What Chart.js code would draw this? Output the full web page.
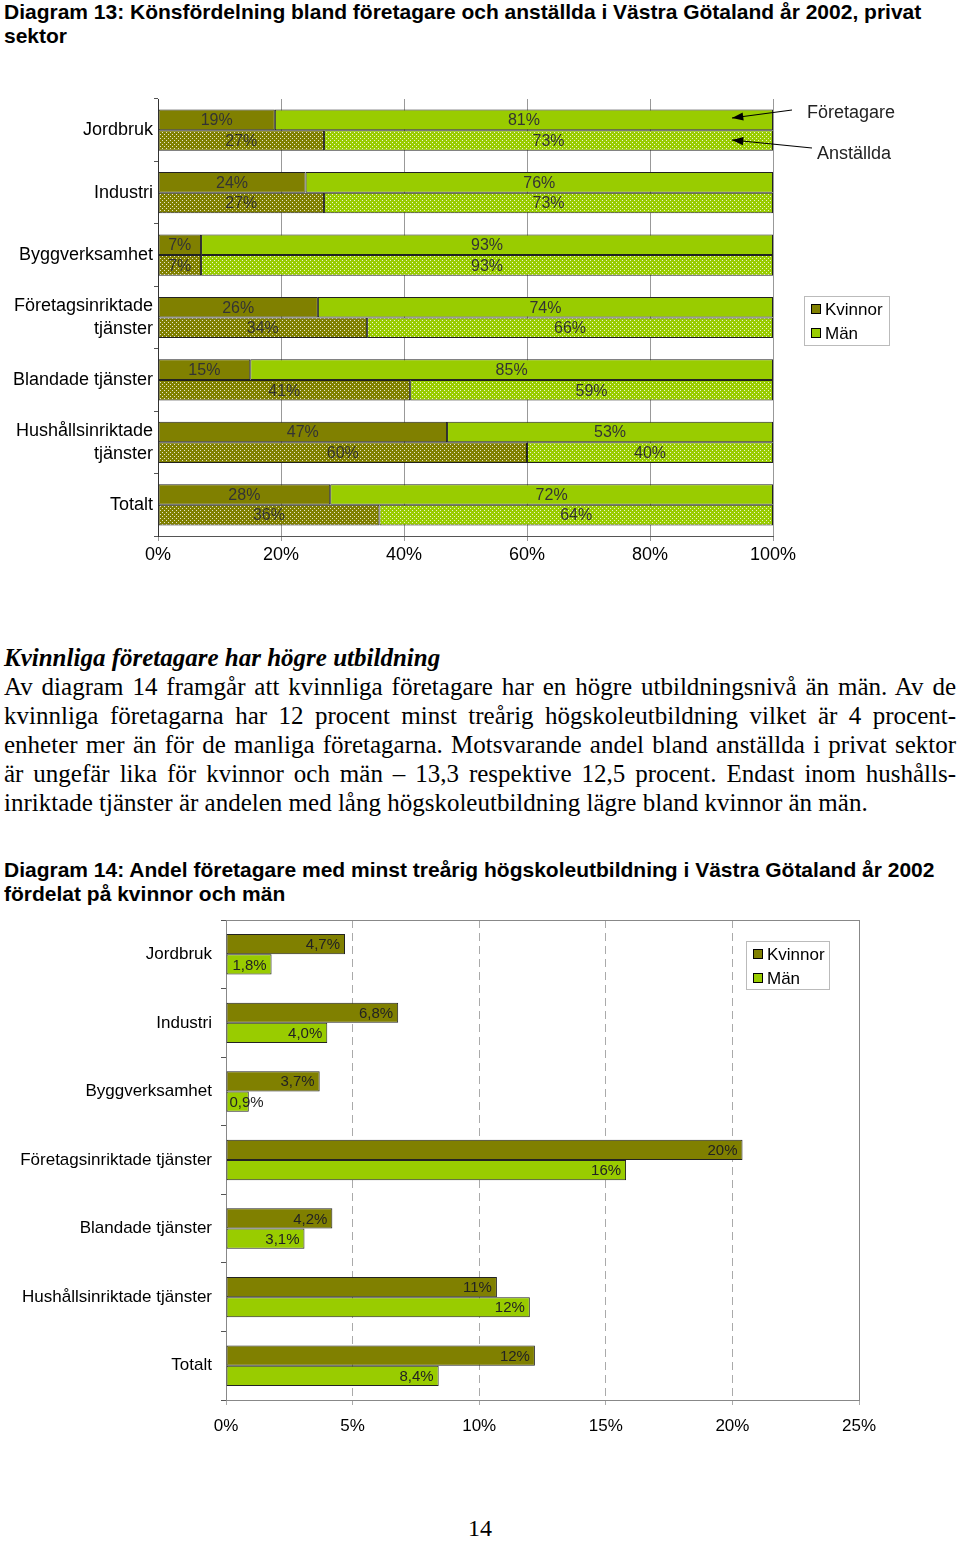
<!DOCTYPE html>
<html>
<head>
<meta charset="utf-8">
<script src="https://cdn.jsdelivr.net/npm/chart.js@4.4.1/dist/chart.umd.min.js"></script>
<style>
body { margin: 0; width: 960px; height: 1541px; position: relative; background: #fff; font-family: "Liberation Sans", Arial, sans-serif; color: #000; }
.title { position: absolute; left: 4px; width: 950px; font-weight: bold; font-size: 21px; line-height: 24px; }
.box { position: absolute; left: 0; width: 960px; }
.box canvas { display: block; }
.serif { font-family: "Liberation Serif", "Times New Roman", serif; }
.head { position: absolute; left: 4px; top: 643px; font-size: 25px; line-height: 29px; font-weight: bold; font-style: italic; }
.body { position: absolute; left: 4px; top: 672px; width: 952px; font-size: 25px; line-height: 29px; }
.body div { text-align: justify; text-align-last: justify; white-space: nowrap; }
.body div.last { text-align-last: left; }
.page { position: absolute; top: 1515px; left: 0; width: 960px; text-align: center; font-size: 24px; }
</style>
</head>
<body>
<div class="title" style="top:0">Diagram 13: Könsfördelning bland företagare och anställda i Västra Götaland år 2002, privat sektor</div>
<div class="box" style="top:90px;height:490px"><canvas id="c1" width="960" height="490"></canvas></div>

<div class="head serif">Kvinnliga företagare har högre utbildning</div>
<div class="body serif">
  <div>Av diagram 14 framgår att kvinnliga företagare har en högre utbildningsnivå än män. Av de</div>
  <div>kvinnliga företagarna har 12 procent minst treårig högskoleutbildning vilket är 4 procent-</div>
  <div>enheter mer än för de manliga företagarna. Motsvarande andel bland anställda i privat sektor</div>
  <div>är ungefär lika för kvinnor och män – 13,3 respektive 12,5 procent. Endast inom hushålls-</div>
  <div class="last">inriktade tjänster är andelen med lång högskoleutbildning lägre bland kvinnor än män.</div>
</div>

<div class="title" style="top:858px">Diagram 14: Andel företagare med minst treårig högskoleutbildning i Västra Götaland år 2002 fördelat på kvinnor och män</div>
<div class="box" style="top:905px;height:545px"><canvas id="c2" width="960" height="545"></canvas></div>

<div class="page serif">14</div>

<script>
// Diagram 13 data (procent)
var categories1 = ['Jordbruk', 'Industri', 'Byggverksamhet', ['Företagsinriktade', 'tjänster'], 'Blandade tjänster', ['Hushållsinriktade', 'tjänster'], 'Totalt'];
var foretagareKvinnor = [19, 24, 7, 26, 15, 47, 28];
var foretagareMan = [81, 76, 93, 74, 85, 53, 72];
var anstalldaKvinnor = [27, 27, 7, 34, 41, 60, 36];
var anstalldaMan = [73, 73, 93, 66, 59, 40, 64];

// Diagram 14 data (procent)
var categories2 = ['Jordbruk', 'Industri', 'Byggverksamhet', 'Företagsinriktade tjänster', 'Blandade tjänster', 'Hushållsinriktade tjänster', 'Totalt'];
var utbKvinnor = [4.7, 6.8, 3.7, 20.4, 4.2, 10.7, 12.2];
var utbMan = [1.8, 4.0, 0.9, 15.8, 3.1, 12.0, 8.4];

var OLIVE = '#808000';
var LIME = '#99cc00';
var FONT = '"Liberation Sans", Arial, sans-serif';

Chart.defaults.font.family = FONT;
Chart.defaults.color = '#000';

// dotted fill for Anställda bars
function dotted(color) {
  var c = document.createElement('canvas');
  c.width = 4; c.height = 4;
  var g = c.getContext('2d');
  g.fillStyle = color;
  g.fillRect(0, 0, 4, 4);
  g.fillStyle = 'rgba(255,255,255,0.8)';
  g.fillRect(0, 0, 1, 1);
  g.fillRect(2, 2, 1, 1);
  return g.createPattern(c, 'repeat');
}
var ctx1 = document.getElementById('c1').getContext('2d');

function drawLegend(ctx, x, y, w, h, items) {
  ctx.save();
  ctx.strokeStyle = '#bbb';
  ctx.lineWidth = 1;
  ctx.strokeRect(x + 0.5, y + 0.5, w, h);
  ctx.font = '17px ' + FONT;
  ctx.textBaseline = 'middle';
  items.forEach(function (it, i) {
    var cy = y + 13 + i * 24;
    ctx.fillStyle = it.color;
    ctx.fillRect(x + 7, cy - 5, 10, 10);
    ctx.strokeStyle = '#000';
    ctx.strokeRect(x + 7.5, cy - 4.5, 9, 9);
    ctx.fillStyle = '#000';
    ctx.fillText(it.text, x + 21, cy + 1);
  });
  ctx.restore();
}

function arrow(ctx, x1, y1, x2, y2) {
  var a = Math.atan2(y2 - y1, x2 - x1);
  ctx.beginPath();
  ctx.moveTo(x1, y1);
  ctx.lineTo(x2, y2);
  ctx.stroke();
  ctx.beginPath();
  ctx.moveTo(x2, y2);
  ctx.lineTo(x2 - 12 * Math.cos(a - 0.35), y2 - 12 * Math.sin(a - 0.35));
  ctx.lineTo(x2 - 12 * Math.cos(a + 0.35), y2 - 12 * Math.sin(a + 0.35));
  ctx.closePath();
  ctx.fill();
}

function noPad(s) {
  s.paddingTop = 0;
  s.paddingBottom = 0;
}

var labels1 = {
  id: 'labels1',
  afterDatasetsDraw: function (chart) {
    var ctx = chart.ctx;
    ctx.save();
    ctx.font = '16px ' + FONT;
    ctx.fillStyle = '#333';
    ctx.textAlign = 'center';
    ctx.textBaseline = 'middle';
    chart.data.datasets.forEach(function (ds, i) {
      chart.getDatasetMeta(i).data.forEach(function (bar, j) {
        ctx.fillText(ds.data[j] + '%', (bar.x + bar.base) / 2, bar.y + 1);
      });
    });
    // annotations
    ctx.textAlign = 'left';
    ctx.font = '18px ' + FONT;
    ctx.fillStyle = '#222';
    ctx.fillText('Företagare', 807, 23);
    ctx.fillText('Anställda', 817, 64);
    ctx.strokeStyle = '#000';
    ctx.fillStyle = '#000';
    ctx.lineWidth = 1.2;
    arrow(ctx, 792, 20, 732, 28);
    arrow(ctx, 812, 58, 732, 50);
    ctx.restore();
    drawLegend(ctx, 804, 206, 85, 49, [{ color: OLIVE, text: 'Kvinnor' }, { color: LIME, text: 'Män' }]);
  }
};

new Chart(ctx1, {
  type: 'bar',
  data: {
    labels: categories1,
    datasets: [
      { label: 'Kvinnor', data: foretagareKvinnor, stack: 'F', backgroundColor: OLIVE },
      { label: 'Män', data: foretagareMan, stack: 'F', backgroundColor: LIME },
      { label: 'Kvinnor anställda', data: anstalldaKvinnor, stack: 'A', backgroundColor: dotted(OLIVE) },
      { label: 'Män anställda', data: anstalldaMan, stack: 'A', backgroundColor: dotted(LIME) }
    ]
  },
  options: {
    indexAxis: 'y',
    responsive: false,
    animation: false,
    layout: { padding: { top: 9, right: 187, left: 0, bottom: 0 } },
    datasets: { bar: { borderColor: '#222', borderWidth: 1, borderSkipped: false, categoryPercentage: 0.66, barPercentage: 1 } },
    scales: {
      x: {
        stacked: true,
        min: 0,
        max: 100,
        ticks: { stepSize: 20, padding: 3, font: { size: 18 }, callback: function (v) { return v + '%'; } },
        grid: { color: '#999', tickLength: 5 },
        border: { color: '#555' },
        afterFit: function (s) { s.height = 44; }
      },
      y: {
        stacked: true,
        ticks: { padding: 1, font: { size: 18, lineHeight: 1.25 } },
        grid: { drawOnChartArea: false, tickLength: 4, color: '#555' },
        border: { color: '#333' },
        afterFit: function (s) { s.width = 158; noPad(s); }
      }
    },
    plugins: { legend: { display: false }, tooltip: { enabled: false } }
  },
  plugins: [labels1]
});

function fmt(v) {
  return v < 10 ? v.toFixed(1).replace('.', ',') + '%' : Math.round(v) + '%';
}

var labels2 = {
  id: 'labels2',
  beforeDatasetsDraw: function (chart) {
    var a = chart.chartArea;
    var ctx = chart.ctx;
    ctx.save();
    ctx.strokeStyle = '#888';
    ctx.lineWidth = 1;
    ctx.strokeRect(a.left + 0.5, a.top + 0.5, a.right - a.left, a.bottom - a.top);
    ctx.restore();
  },
  afterDatasetsDraw: function (chart) {
    var ctx = chart.ctx;
    ctx.save();
    ctx.font = '15px ' + FONT;
    ctx.fillStyle = '#222';
    ctx.textBaseline = 'middle';
    ctx.textAlign = 'left';
    chart.data.datasets.forEach(function (ds, i) {
      chart.getDatasetMeta(i).data.forEach(function (bar, j) {
        var t = fmt(ds.data[j]);
        var w = ctx.measureText(t).width;
        var x = Math.max(bar.x - 5 - w, bar.base + 3);
        ctx.fillText(t, x, bar.y + 1);
      });
    });
    ctx.restore();
    drawLegend(ctx, 746, 36, 83, 48, [{ color: OLIVE, text: 'Kvinnor' }, { color: LIME, text: 'Män' }]);
  }
};

new Chart(document.getElementById('c2').getContext('2d'), {
  type: 'bar',
  data: {
    labels: categories2,
    datasets: [
      { label: 'Kvinnor', data: utbKvinnor, backgroundColor: OLIVE },
      { label: 'Män', data: utbMan, backgroundColor: LIME }
    ]
  },
  options: {
    indexAxis: 'y',
    responsive: false,
    animation: false,
    layout: { padding: { top: 15, right: 101, left: 0, bottom: 0 } },
    datasets: { bar: { borderColor: '#222', borderWidth: 1, borderSkipped: false, categoryPercentage: 0.59, barPercentage: 1 } },
    scales: {
      x: {
        min: 0,
        max: 25,
        ticks: { stepSize: 5, padding: 11, font: { size: 17 }, callback: function (v) { return v + '%'; } },
        grid: { color: '#aaa', tickLength: 5 },
        border: { color: '#555', dash: [8, 5] },
        afterFit: function (s) { s.height = 50; }
      },
      y: {
        ticks: { padding: 9, font: { size: 17 } },
        grid: { drawOnChartArea: false, tickLength: 5, color: '#555' },
        border: { color: '#444' },
        afterFit: function (s) { s.width = 226; noPad(s); }
      }
    },
    plugins: { legend: { display: false }, tooltip: { enabled: false } }
  },
  plugins: [labels2]
});
</script>
</body>
</html>
